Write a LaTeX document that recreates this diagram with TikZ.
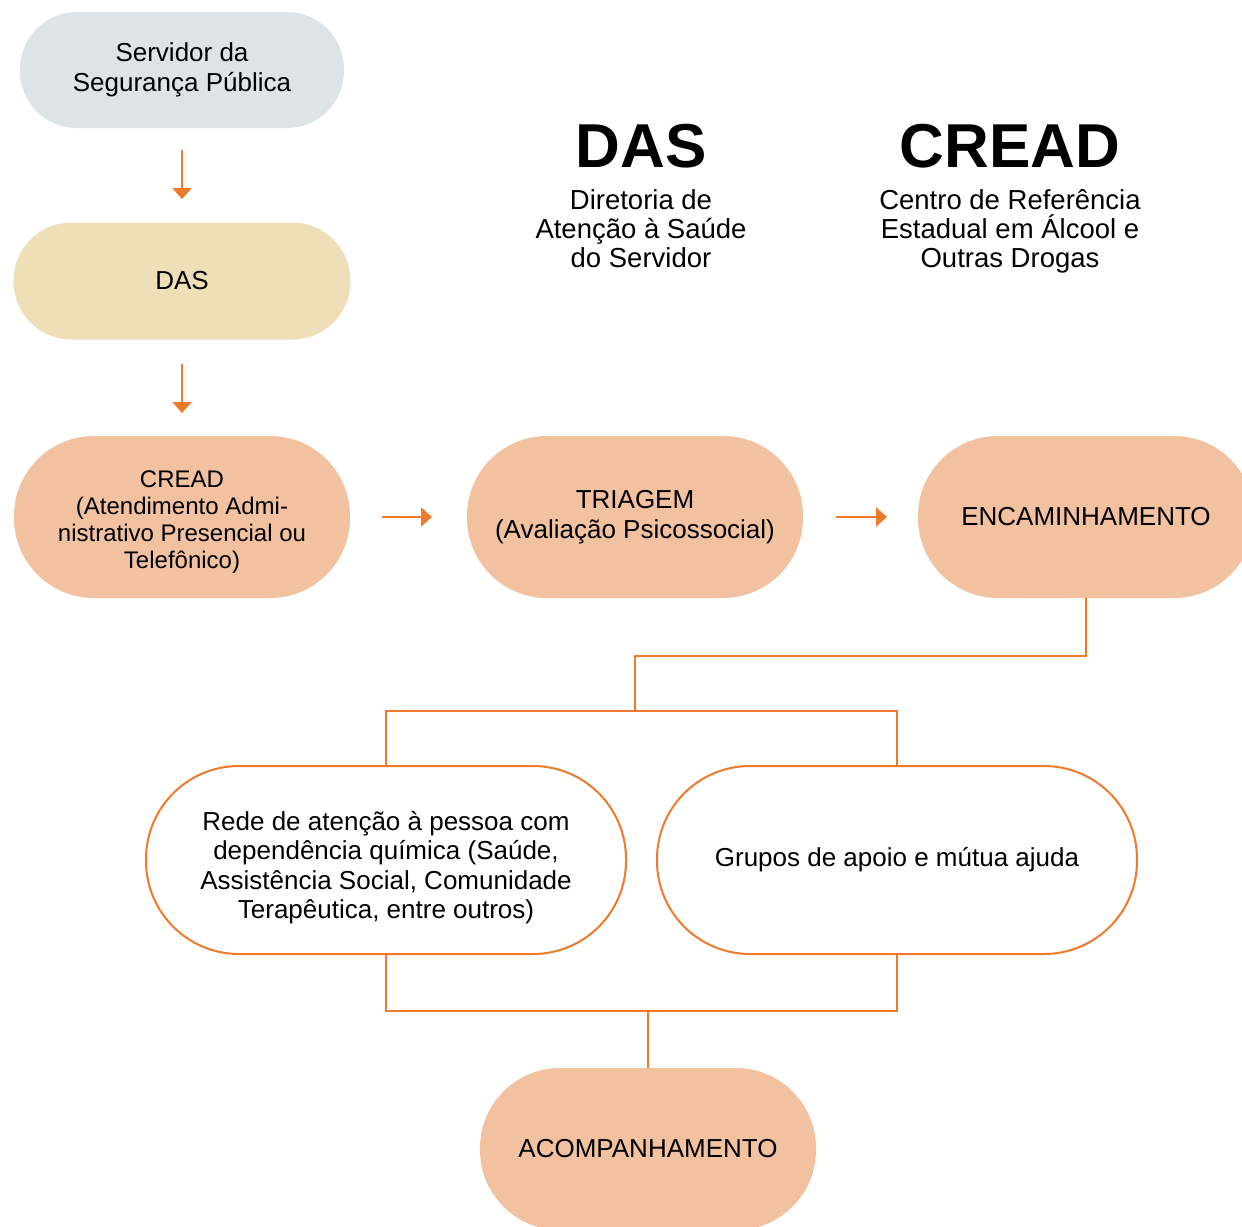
\documentclass[tikz,border=0pt]{standalone}
\usepackage{fontspec}
\setmainfont{Liberation Sans}
\usetikzlibrary{arrows.meta}
\definecolor{cgray}{HTML}{DEE3E6}
\definecolor{ctan}{HTML}{EEDFB8}
\definecolor{csalmon}{HTML}{F1C1A0}
\definecolor{corange}{HTML}{F07A2C}
\begin{document}
\begin{tikzpicture}[x=1pt,y=-1pt,
  pill/.style={rectangle, inner sep=0pt, align=center, text=black,
    font=\fontsize{26}{29.5}\selectfont},
  grayp/.style={pill, fill=cgray, minimum width=324pt, minimum height=116pt, rounded corners=57pt},
  tanp/.style={pill, fill=ctan, minimum width=337pt, minimum height=117pt, rounded corners=58pt},
  salp/.style={pill, fill=csalmon, minimum width=336pt, minimum height=162pt, rounded corners=80pt},
  whitep/.style={pill, fill=white, draw=corange, line width=2pt, minimum width=480pt, minimum height=188pt, rounded corners=93pt},
  flow/.style={draw=corange, line width=2.5pt, -{Triangle[length=11pt,width=19pt]}},
  link/.style={draw=corange, line width=2.5pt},
  head/.style={font=\fontsize{62}{62}\selectfont\bfseries, inner sep=0pt},
  sub/.style={font=\fontsize{27.5}{29}\selectfont, align=center, inner sep=0pt}
]
\useasboundingbox (0,0) rectangle (1242,1226);
\clip (0,0) rectangle (1242,1226);

\node[grayp] (serv) at (182,70) {Servidor da\\Segurança Pública};
\node[tanp] (das) at (182,281) {DAS};
\node[salp, font=\fontsize{24}{27}\selectfont] (cread) at (182,517) {\rule{0pt}{26pt}CREAD\\(Atendimento Admi-\\nistrativo Presencial ou\\Telefônico)};
\node[salp] (tri) at (635,517) {TRIAGEM\\(Avaliação Psicossocial)};
\node[salp] (enc) at (1086,517) {ENCAMINHAMENTO};
\node[whitep] (rede) at (386,860) {\rule{0pt}{34pt}Rede de atenção à pessoa com\\dependência química (Saúde,\\Assistência Social, Comunidade\\Terapêutica, entre outros)};
\node[whitep] (grp) at (897,860) {Grupos de apoio e mútua ajuda};
\node[salp] (acomp) at (648,1149) {ACOMPANHAMENTO};

\node[head] (hdas) at (641,146) {DAS};
\node[head] (hcread) at (1010,146) {CREAD};
\node[sub, anchor=north] (sdas) at (641,189) {Diretoria de\\Atenção à Saúde\\do Servidor};
\node[sub, anchor=north] (scread) at (1010,189) {Centro de Referência\\Estadual em Álcool e\\Outras Drogas};

\coordinate (a1s) at (182,150);
\coordinate (a1e) at (182,199);
\coordinate (a2s) at (182,364);
\coordinate (a2e) at (182,413);
\coordinate (a3s) at (382,517);
\coordinate (a3e) at (432,517);
\coordinate (a4s) at (836,517);
\coordinate (a4e) at (887,517);
\draw[flow] (a1s) -- (a1e);
\draw[flow] (a2s) -- (a2e);
\draw[flow] (a3s) -- (a3e);
\draw[flow] (a4s) -- (a4e);

\coordinate (j1) at (635,656);
\coordinate (j2) at (635,711);
\coordinate (j3) at (648,1011);
\draw[link] (enc.south) |- (j1) -- (j2);
\draw[link] (rede.north) |- (j2) -| (grp.north);
\draw[link] (rede.south) |- (j3) -| (grp.south);
\draw[link] (j3) -- (acomp.north);
\end{tikzpicture}
\end{document}
